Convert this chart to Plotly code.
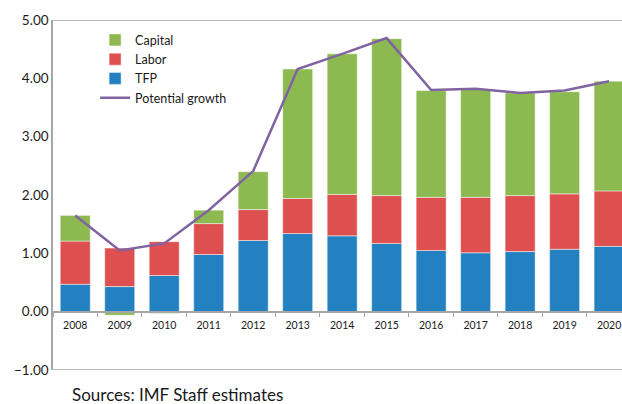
import plotly.graph_objects as go

# Contributions to potential growth (percentage points)
years = ["2008", "2009", "2010", "2011", "2012", "2013", "2014",
         "2015", "2016", "2017", "2018", "2019", "2020"]
tfp = [0.47, 0.43, 0.62, 0.98, 1.22, 1.34, 1.30, 1.17, 1.05, 1.01, 1.03, 1.07, 1.12]
labor = [0.74, 0.66, 0.58, 0.53, 0.53, 0.60, 0.71, 0.82, 0.91, 0.95, 0.96, 0.95, 0.95]
capital = [0.44, -0.06, -0.03, 0.23, 0.65, 2.22, 2.41, 2.69, 1.83, 1.85, 1.76, 1.75, 1.88]
potential = [1.65, 1.05, 1.17, 1.74, 2.41, 4.16, 4.42, 4.69, 3.80, 3.82, 3.75, 3.79, 3.95]

FONT = "Lato"
GRAY = "#A6A6A6"
TEXT = "#1A1A1A"
edge = dict(color="rgba(255,255,255,0.45)", width=1)

fig = go.Figure()
fig.add_trace(go.Bar(x=years, y=tfp, name="TFP", legendrank=3,
                     marker=dict(color="#2381C1", line=edge)))
fig.add_trace(go.Bar(x=years, y=labor, name="Labor", legendrank=2,
                     marker=dict(color="#DE504F", line=edge)))
fig.add_trace(go.Bar(x=years, y=capital, name="Capital", legendrank=1,
                     marker=dict(color="#8DBA50", line=edge)))
fig.add_trace(go.Scatter(x=years, y=potential, name="Potential growth", legendrank=4,
                         mode="lines", line=dict(color="#8064A2", width=2.5)))

# frame lines at the top and bottom of the value range
for yv in (5, -1):
    fig.add_shape(type="line", xref="paper", yref="y", x0=0, x1=1, y0=yv, y1=yv,
                  line=dict(color=GRAY, width=1.5))

fig.add_annotation(text="Sources: IMF Staff estimates", xref="paper", yref="paper",
                   x=(70 - 53) / 569, y=(370 - 394) / 350, xanchor="left", yanchor="middle",
                   showarrow=False, font=dict(family=FONT, size=17, color=TEXT))

fig.update_layout(
    width=622, height=404,
    margin=dict(l=53, r=0, t=20, b=34),
    paper_bgcolor="white", plot_bgcolor="white",
    barmode="relative", bargap=0.326,
    font=dict(family=FONT, color=TEXT),
    showlegend=True,
    legend=dict(x=0.074, y=0.985, xanchor="left", yanchor="top",
                bgcolor="rgba(0,0,0,0)", font=dict(family=FONT, size=12.5),
                itemwidth=30, tracegroupgap=0),
    xaxis=dict(type="category", range=[-0.5, 12.29], anchor="free", position=1 / 6,
               showline=True, linecolor=GRAY, linewidth=1.5,
               ticks="outside", tickson="boundaries", ticklen=5, tickcolor=GRAY,
               ticklabelstandoff=4,
               tickfont=dict(family=FONT, size=10.5, color=TEXT), showgrid=False),
    yaxis=dict(range=[-1, 5], dtick=1, tickformat=".2f", showgrid=False, zeroline=False,
               showline=True, linecolor=GRAY, linewidth=1.5, ticks="",
               tickfont=dict(family=FONT, size=13.5, color=TEXT)),
)

fig.write_html("out.html")
